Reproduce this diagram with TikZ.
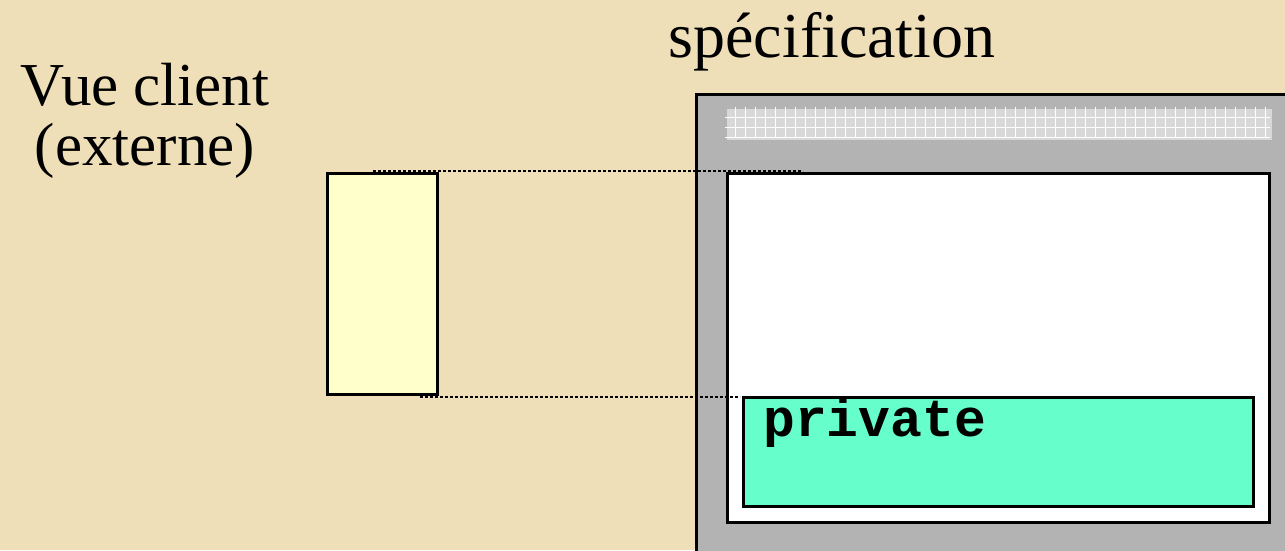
\documentclass[tikz,border=0pt]{standalone}
\usepackage{fontspec}
\setmainfont{Liberation Serif}
\newfontfamily\codefont{Liberation Mono}
\usetikzlibrary{calc}
\definecolor{parchment}{RGB}{239,223,184}
\definecolor{specgray}{RGB}{179,179,179}
\definecolor{bargray}{RGB}{216,216,216}
\definecolor{clientyellow}{RGB}{255,255,204}
\definecolor{privgreen}{RGB}{102,255,204}
\tikzset{
  boxnode/.style={draw=black, line width=3pt, inner sep=0pt, anchor=north west},
  gridline/.style={white, line width=1pt},
  dotline/.style={line width=2.5pt, dash pattern=on 2.5pt off 2.5pt},
}
\newcommand{\rectnode}[6]{\node[boxnode,fill=#2,minimum width=#5pt,minimum height=#6pt] (#1) at (#3,#4) {};}

\begin{document}
\begin{tikzpicture}[x=1pt,y=-1pt]
        \clip (0,0) rectangle (1285,550);
        \fill[parchment] (0,0) rectangle (1285,550);

        %boxes
        \rectnode{spec}{specgray}{695}{93}{700}{500}
        \node[boxnode, draw=none, fill=bargray, minimum width=545pt, minimum height=31pt] (bar) at (725,107) {};
        \foreach \gx in {735,745,...,1265} \draw[gridline] (\gx,107) -- (\gx,138);
        \foreach \gy in {117,127,137} \draw[gridline] (725,\gy) -- (1270,\gy);
        \rectnode{body}{white}{726}{172}{542}{349}
        \rectnode{priv}{privgreen}{742}{396}{510}{109}
        \rectnode{client}{clientyellow}{326}{172}{110}{221}

        %labels
        \node[font=\fontsize{61}{60}\selectfont, align=center, anchor=base] (vue) at (145,165) {Vue client\\(externe)};
        \node[font=\fontsize{64}{64}\selectfont, anchor=base] (spectitle) at (832,57) {spécification};
        \node[font=\codefont\fontsize{53}{53}\selectfont\bfseries, anchor=base west, inner sep=0pt] (privlabel) at ($(priv.north west)+(21,40)$) {private};

        %dotted lines
        \coordinate (topa) at ($(client.north west)+(47,-1)$);
        \coordinate (topb) at ($(body.north west)+(77,-1)$);
        \coordinate (bota) at ($(client.south west)+(94,1)$);
        \coordinate (botb) at ($(priv.north west)+(-2,-2)$);
        \draw[dotline] (topa) -- (topa -| topb);
        \draw[dotline] (bota) -- (bota -| botb);
\end{tikzpicture}
\end{document}
